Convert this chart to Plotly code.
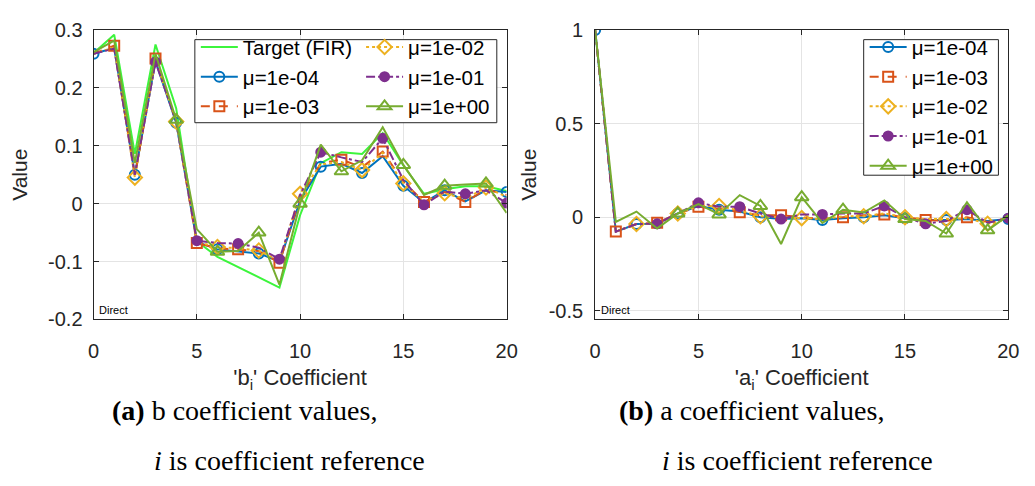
import plotly.graph_objects as go

W, H = 1035, 486

idx = list(range(21))

# ---- b coefficients (left panel) ----
b_target = [0.26, 0.292, 0.086, 0.275, 0.165, -0.065, -0.092, -0.110, -0.127, -0.145, -0.020,
            0.070, 0.089, 0.086, 0.122, 0.066, 0.017, 0.025, 0.030, 0.030, 0.022]
b_mu4 = [0.259, 0.269, 0.050, 0.246, 0.140, -0.066, -0.079, -0.082, -0.086, -0.100, 0.005,
         0.064, 0.069, 0.053, 0.082, 0.031, 0.002, 0.023, 0.004, 0.023, 0.020]
b_mu3 = [0.259, 0.273, 0.048, 0.251, 0.142, -0.068, -0.077, -0.079, -0.082, -0.102, 0.010,
         0.070, 0.076, 0.063, 0.090, 0.038, 0.003, 0.020, 0.003, 0.025, 0.015]
b_mu2 = [0.259, 0.270, 0.045, 0.248, 0.142, -0.066, -0.075, -0.077, -0.081, -0.099, 0.017,
         0.068, 0.072, 0.058, 0.088, 0.035, 0.003, 0.018, 0.008, 0.028, 0.012]
b_mu1 = [0.259, 0.268, 0.050, 0.245, 0.142, -0.064, -0.068, -0.069, -0.076, -0.096, 0.015,
         0.089, 0.080, 0.072, 0.113, 0.041, -0.002, 0.021, 0.017, 0.023, 0.001]
b_mu0 = [0.262, 0.282, 0.070, 0.259, 0.145, -0.044, -0.083, -0.082, -0.050, -0.140, 0.000,
         0.102, 0.056, 0.075, 0.132, 0.067, 0.015, 0.031, 0.033, 0.035, -0.016]

# ---- a coefficients (right panel) ----
a_mu4 = [1.0, -0.077, -0.036, -0.035, 0.020, 0.060, 0.040, 0.030, 0.000, -0.010, -0.005,
         -0.015, -0.005, 0.000, 0.010, -0.005, -0.015, -0.015, -0.010, -0.020, -0.010]
a_mu3 = [1.0, -0.077, -0.036, -0.030, 0.020, 0.056, 0.045, 0.026, 0.010, 0.010, 0.000,
         -0.010, 0.000, 0.010, 0.015, 0.000, -0.015, -0.020, 0.000, -0.025, -0.005]
a_mu2 = [1.0, -0.077, -0.036, -0.035, 0.020, 0.060, 0.060, 0.035, 0.005, 0.000, -0.005,
         -0.010, 0.005, 0.005, 0.020, 0.000, -0.010, -0.010, -0.005, -0.035, -0.010]
a_mu1 = [1.0, -0.077, -0.036, -0.035, 0.020, 0.077, 0.056, 0.056, 0.020, -0.010, 0.015,
         0.015, 0.020, 0.020, 0.060, 0.000, -0.035, -0.020, 0.040, -0.030, -0.005]
a_mu0 = [1.0, -0.025, 0.030, -0.060, 0.020, 0.070, 0.015, 0.118, 0.060, -0.143, 0.107,
         -0.030, 0.040, 0.025, 0.090, -0.010, -0.020, -0.087, 0.080, -0.070, 0.010]

names = ["μ=1e-04", "μ=1e-03", "μ=1e-02", "μ=1e-01", "μ=1e+00"]
colors = ["#0072BD", "#D95319", "#EDB120", "#7E2F8E", "#77AC30"]
dashes = ["solid", "dash", "dot", "dashdot", "solid"]
symbols = ["circle-open", "square-open", "diamond-open", "circle", "triangle-up-open"]
msizes = [10, 10, 11, 9, 12]
# indices where markers are drawn for each series
mark_idx = [
    [0, 2, 4, 6, 8, 11, 13, 15, 17, 20],
    [1, 3, 5, 7, 9, 12, 14, 16, 18],
    [2, 4, 6, 8, 10, 13, 15, 17, 19],
    [3, 5, 7, 9, 11, 14, 16, 18, 20],
    [4, 6, 8, 10, 12, 15, 17, 19],
]
target_color = "#3cf53c"

fig = go.Figure()

def add_series(xa, ya, yvals, k, legend_name, rank):
    c = colors[k]
    fig.add_trace(go.Scatter(x=idx, y=yvals, mode="lines", xaxis=xa, yaxis=ya,
                             line=dict(color=c, width=2, dash=dashes[k]),
                             showlegend=False, hoverinfo="skip"))
    mx = [idx[i] for i in mark_idx[k]]
    my = [yvals[i] for i in mark_idx[k]]
    mk = dict(symbol=symbols[k], size=msizes[k], color=c, line=dict(color=c, width=2))
    fig.add_trace(go.Scatter(x=mx, y=my, mode="markers", xaxis=xa, yaxis=ya,
                             marker=mk, showlegend=False, hoverinfo="skip"))
    fig.add_trace(go.Scatter(x=[None], y=[None], mode="lines+markers", xaxis=xa, yaxis=ya,
                             name=names[k], line=dict(color=c, width=2, dash=dashes[k]),
                             marker=mk, legend=legend_name, legendrank=rank,
                             legendgroup=legend_name + str(k), showlegend=True))

# left panel
fig.add_trace(go.Scatter(x=idx, y=b_target, mode="lines", name="Target (FIR)",
                         line=dict(color=target_color, width=2), xaxis="x", yaxis="y",
                         legend="legend", legendrank=1, legendgroup="t"))
left_series = [b_mu4, b_mu3, b_mu2, b_mu1, b_mu0]
for k, s in enumerate(left_series):
    lg = "legend" if k < 2 else "legend2"
    add_series("x", "y", s, k, lg, k + 2)

# right panel
right_series = [a_mu4, a_mu3, a_mu2, a_mu1, a_mu0]
for k, s in enumerate(right_series):
    add_series("x2", "y2", s, k, "legend3", k + 1)

def px(x):
    return x / W

def py(y):
    return 1 - y / H

axis_col = "#262626"
grid_col = "#e4e4e4"
tickfont = dict(family="Liberation Sans, Arial, sans-serif", size=20, color=axis_col)
titlefont = dict(family="Liberation Sans, Arial, sans-serif", size=21, color=axis_col)
xtitlefont = dict(family="Liberation Sans, Arial, sans-serif", size=22, color=axis_col)

common_x = dict(range=[0, 20], tickvals=[0, 5, 10, 15, 20], showgrid=True, gridcolor=grid_col,
                showline=True, linecolor=axis_col, linewidth=1, mirror="ticks", ticks="inside",
                ticklen=5, tickcolor=axis_col, zeroline=False, tickfont=tickfont,
                ticklabelstandoff=14)
common_y = dict(showgrid=True, gridcolor=grid_col, showline=True, linecolor=axis_col,
                linewidth=1, mirror="ticks", ticks="inside", ticklen=5, tickcolor=axis_col,
                zeroline=False, tickfont=tickfont)

b_ticks = [-0.2, -0.1, 0, 0.1, 0.2, 0.3]
b_ticktext = ["-0.2", "-0.1", "0", "0.1", "0.2", "0.3"]
a_ticks = [-0.5, 0, 0.5, 1]
a_ticktext = ["-0.5", "0", "0.5", "1"]

fig.update_layout(
    width=W, height=H, margin=dict(l=0, r=0, t=0, b=0),
    paper_bgcolor="white", plot_bgcolor="white",
    xaxis=dict(domain=[px(89), px(509)], anchor="y",
               title=dict(text="'b<sub>i</sub>' Coefficient", font=xtitlefont, standoff=8),
               **common_x),
    yaxis=dict(domain=[py(323), py(20)], anchor="x", range=[-0.2, 0.3],
               tickvals=b_ticks, ticktext=b_ticktext, ticklabelstandoff=6,
               title=dict(text="Value", font=titlefont, standoff=14), **common_y),
    xaxis2=dict(domain=[px(599), px(1019)], anchor="y2",
                title=dict(text="'a<sub>i</sub>' Coefficient", font=xtitlefont, standoff=8),
                **common_x),
    yaxis2=dict(domain=[py(323), py(20)], anchor="x2", range=[-0.546, 1.0],
                tickvals=a_ticks, ticktext=a_ticktext, ticklabelstandoff=7,
                title=dict(text="Value", font=titlefont, standoff=6), **common_y),
)

legfont = dict(family="Liberation Sans, Arial, sans-serif", size=20.5, color="black")
legcommon = dict(xref="paper", yref="paper", xanchor="left", yanchor="top",
                 bgcolor="rgba(0,0,0,0)", borderwidth=0, font=legfont, itemwidth=37,
                 tracegroupgap=0, orientation="v")
fig.update_layout(
    legend=dict(x=px(193), y=py(17), **legcommon),
    legend2=dict(x=px(361), y=py(17), **legcommon),
    legend3=dict(x=px(873), y=py(17), **legcommon),
)

# legend boxes
for (x0, x1, y0, y1) in [(192, 499, 30, 117), (872, 1009, 30, 172)]:
    fig.add_shape(type="rect", xref="paper", yref="paper", x0=px(x0), x1=px(x1),
                  y0=py(y1), y1=py(y0), fillcolor="white",
                  line=dict(color=axis_col, width=1), layer="above")

# "Direct" labels
for xl in (93, 603):
    fig.add_annotation(x=px(xl), y=py(313), xref="paper", yref="paper", text="Direct",
                       showarrow=False, xanchor="left", yanchor="middle",
                       font=dict(family="Liberation Sans, Arial, sans-serif", size=11, color="black"))

# captions
capfont = dict(family="Liberation Serif, Times New Roman, serif", size=28, color="black")
captions = [
    (106, 418, "<b>(a)</b> b coefficient values,"),
    (148, 471, "<i>i</i> is coefficient reference"),
    (621, 418, "<b>(b)</b> a coefficient values,"),
    (665, 471, "<i>i</i> is coefficient reference"),
]
for x, y, t in captions:
    fig.add_annotation(x=px(x), y=py(y), xref="paper", yref="paper", text=t, showarrow=False,
                       xanchor="left", yanchor="middle", font=capfont)

fig.write_html("out.html")
